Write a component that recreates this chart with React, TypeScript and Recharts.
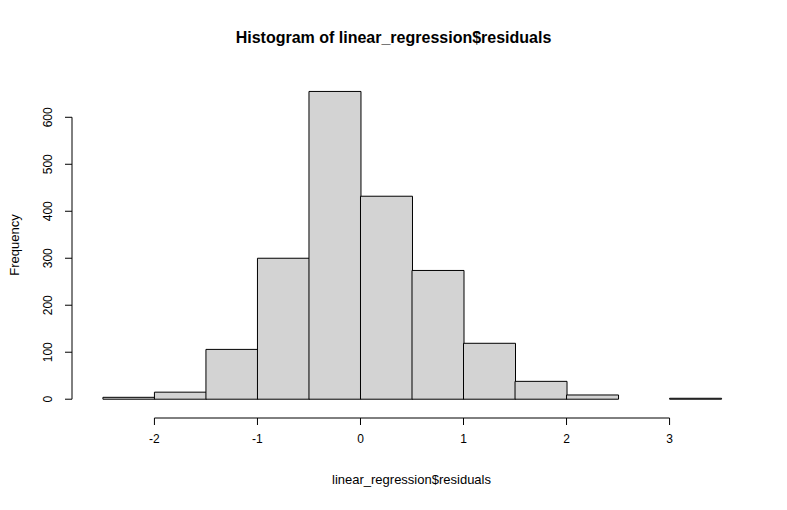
import React from 'react';
import { ComposedChart, Bar, XAxis, YAxis, ReferenceLine } from 'recharts';

const binMids = [-2.25, -1.75, -1.25, -0.75, -0.25, 0.25, 0.75, 1.25, 1.75, 2.25, 2.75, 3.25];
const counts = [4, 15, 106, 300, 655, 432, 274, 119, 38, 9, 0, 2];
const xTicks = [-2, -1, 0, 1, 2, 3];
const yTicks = [0, 100, 200, 300, 400, 500, 600];

const data = binMids.map((x, i) => ({ x, count: counts[i] }));
const font = 'Liberation Sans, Arial, sans-serif';

const renderYTick = (props: any) => {
  const { y, payload } = props;
  const x = 72;
  return (
    <g key={`y-${payload.value}`}>
      <line x1={x} x2={x - 7} y1={y} y2={y} stroke="#000" />
      <text x={x - 20} y={y} transform={`rotate(-90, ${x - 20}, ${y})`} textAnchor="middle" fontSize={12} fontFamily={font} fill="#000">
        {payload.value}
      </text>
    </g>
  );
};

const renderXTick = (props: any) => {
  const { x, payload } = props;
  const y = 418;
  return (
    <g key={`x-${payload.value}`}>
      <line x1={x} x2={x} y1={y} y2={y + 7} stroke="#000" />
      <text x={x} y={y + 25} textAnchor="middle" fontSize={12} fontFamily={font} fill="#000">
        {payload.value}
      </text>
    </g>
  );
};

export default function App() {
  return (
    <div style={{ position: 'absolute', left: 0, top: 0, width: 787, height: 510, background: '#fff' }}>
      <ComposedChart width={787} height={510} data={data} margin={{ top: 75, right: 35, bottom: 62, left: 42 }} barCategoryGap={0} barGap={0}>
        <XAxis dataKey="x" type="number" domain={[-2.8, 3.8]} ticks={xTicks} height={30} axisLine={false} tickLine={false} tick={renderXTick} interval={0} />
        <YAxis type="number" domain={[-40, 690]} ticks={yTicks} width={30} axisLine={false} tickLine={false} tick={renderYTick} interval={0} />
        <Bar dataKey="count" fill="#d3d3d3" stroke="#000" strokeWidth={1} isAnimationActive={false} />
        <ReferenceLine segment={[{ x: -2, y: -40 }, { x: 3, y: -40 }]} stroke="#000" ifOverflow="visible" />
        <ReferenceLine segment={[{ x: -2.8, y: 0 }, { x: -2.8, y: 600 }]} stroke="#000" ifOverflow="visible" />
      </ComposedChart>
      <div style={{ position: 'absolute', left: 0, width: 787, top: 29, textAlign: 'center', fontFamily: font, fontWeight: 'bold', fontSize: 16 }}>
        Histogram of linear_regression$residuals
      </div>
      <div style={{ position: 'absolute', left: 0, width: 787, top: 472, textAlign: 'center', paddingLeft: 36, boxSizing: 'border-box', fontFamily: font, fontSize: 13 }}>
        linear_regression$residuals
      </div>
      <div style={{ position: 'absolute', left: 14, top: 245, transform: 'translate(-50%, -50%) rotate(-90deg)', fontFamily: font, fontSize: 13 }}>
        Frequency
      </div>
    </div>
  );
}
